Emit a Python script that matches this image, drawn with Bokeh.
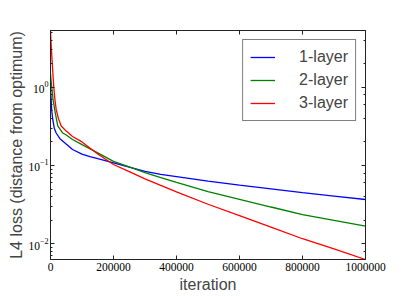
from bokeh.plotting import figure
from bokeh.models import (Range1d, LinearAxis, LogAxis, Legend, LegendItem,
                          FixedTicker, BasicTickFormatter, LogTicker)
from bokeh.embed import file_html
from bokeh.resources import INLINE

# ---- data ----
iters_1 = [0, 2000, 4000, 7000, 12000, 18000, 30000, 45000, 70000, 100000, 125000, 150000,
           200000, 250000, 300000, 350000, 400000, 500000, 600000, 700000, 800000, 900000, 1000000]
loss_1 = [0.95, 0.7, 0.5, 0.39, 0.3, 0.26, 0.22, 0.195, 0.16, 0.14, 0.13, 0.122,
          0.108, 0.095, 0.084, 0.077, 0.072, 0.063, 0.056, 0.0503, 0.045, 0.0407, 0.0368]

iters_2 = [0, 2000, 4000, 8000, 14000, 23000, 39000, 50000, 70000, 100000, 150000,
           200000, 250000, 300000, 350000, 400000, 500000, 600000, 700000, 800000, 900000, 1000000]
loss_2 = [1.5, 1.2, 1.0, 0.7, 0.5, 0.32, 0.26, 0.245, 0.215, 0.185, 0.145,
          0.113, 0.096, 0.081, 0.07, 0.061, 0.0465, 0.037, 0.0295, 0.0236, 0.0199, 0.0168]

iters_3 = [0, 2000, 5000, 8000, 10500, 14000, 18000, 25000, 34000, 50000, 70000, 100000,
           150000, 200000, 250000, 300000, 350000, 400000, 500000, 600000, 700000, 800000, 900000, 1000000]
loss_3 = [5.3, 3.5, 2.2, 1.4, 1.0, 0.7, 0.52, 0.4, 0.32, 0.275, 0.235, 0.2,
          0.14, 0.103, 0.0835, 0.0676, 0.0557, 0.046, 0.032, 0.0229, 0.0163, 0.0116, 0.0086, 0.0063]

series_names = ["1-layer", "2-layer", "3-layer"]
series_colors = ["#0000ff", "#008000", "#ff0000"]
x_ticks = [0, 200000, 400000, 600000, 800000, 1000000]

x_label = "iteration"
y_label = "L4 loss (distance from optimum)"

SERIF = "Liberation Serif"
SANS = "Liberation Sans"

p = figure(frame_width=315, frame_height=229, y_axis_type="log",
           x_range=Range1d(0, 1000000), y_range=Range1d(0.0063, 5.3),
           output_backend="svg", toolbar_location=None,
           min_border_left=50, min_border_top=30, min_border_right=30,
           min_border_bottom=30)

p.grid.visible = False
p.background_fill_color = "white"
p.border_fill_color = "white"
p.outline_line_color = "black"
p.outline_line_width = 1

renderers = []
for xs, ys, c in zip([iters_1, iters_2, iters_3], [loss_1, loss_2, loss_3], series_colors):
    r = p.line(xs, ys, line_color=c, line_width=1.3)
    renderers.append(r)

def style_axis(ax, labels=True):
    ax.axis_line_color = "#222222"
    ax.axis_line_width = 1
    ax.major_tick_in = 4
    ax.major_tick_out = 0
    ax.minor_tick_in = 2
    ax.minor_tick_out = 0
    ax.major_tick_line_color = "#222222"
    ax.minor_tick_line_color = "#222222"
    ax.major_label_text_font = SERIF
    ax.major_label_text_font_size = "11.5px"
    ax.major_label_text_color = "black"
    ax.major_label_standoff = 3
    if not labels:
        ax.major_label_text_font_size = "1px"
        ax.major_label_text_color = None
        ax.major_label_standoff = 0

xa = p.xaxis[0]
xa.ticker = FixedTicker(ticks=x_ticks)
xa.formatter = BasicTickFormatter(use_scientific=False)
style_axis(xa)
xa.minor_tick_in = 0
xa.axis_label = x_label
xa.axis_label_text_font = SANS
xa.axis_label_text_font_size = "16px"
xa.axis_label_text_font_style = "normal"
xa.axis_label_standoff = 2

ya = p.yaxis[0]
style_axis(ya)
ya.axis_label = y_label
ya.axis_label_text_font = SANS
ya.axis_label_text_font_size = "16px"
ya.axis_label_text_font_style = "normal"
ya.axis_label_standoff = 0
ya.major_label_standoff = 2

top = LinearAxis(ticker=FixedTicker(ticks=x_ticks))
style_axis(top, labels=False)
top.minor_tick_in = 0
p.add_layout(top, "above")

right = LogAxis(ticker=LogTicker())
style_axis(right, labels=False)
p.add_layout(right, "right")

legend = Legend(items=[LegendItem(label=n, renderers=[r]) for n, r in zip(series_names, renderers)],
                location="top_right")
legend.label_text_font = SANS
legend.label_text_font_size = "16px"
legend.glyph_width = 25
legend.glyph_height = 20
legend.label_height = 20
legend.label_standoff = 24
legend.spacing = 3
legend.padding = 7
legend.margin = 9
legend.border_line_color = "black"
legend.border_line_width = 1
legend.background_fill_alpha = 1
p.add_layout(legend, "center")

open("out.html", "w").write(file_html(p, INLINE))
